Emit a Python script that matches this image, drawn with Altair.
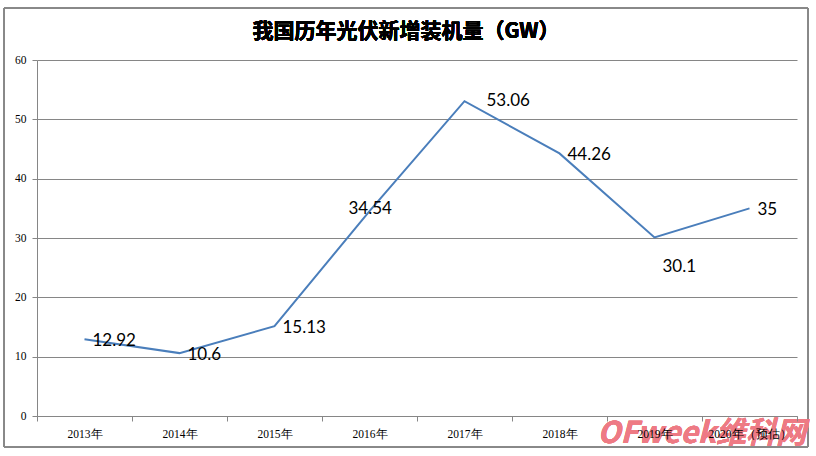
import altair as alt
import pandas as pd

years = ["2013年", "2014年", "2015年", "2016年", "2017年", "2018年", "2019年", "2020年（预估）"]
values = [12.92, 10.6, 15.13, 34.54, 53.06, 44.26, 30.1, 35]
labels = ["12.92", "10.6", "15.13", "34.54", "53.06", "44.26", "30.1", "35"]

df = pd.DataFrame({"year": years, "value": values, "label": labels})

W, H = 760, 356
LEFT, TOP = 37, 60

xenc = alt.X("year:O", sort=years,
             scale=alt.Scale(type="band", paddingInner=0, paddingOuter=0),
             axis=alt.Axis(title=None, labelAngle=0, tickBand="extent", grid=False,
                           domainColor="#868686", tickColor="#868686", tickSize=5,
                           labelFont="Liberation Sans Narrow", labelFontSize=11.5, labelColor="#000000",
                           labelPadding=7, zindex=1))
yenc = alt.Y("value:Q", scale=alt.Scale(domain=[0, 60], nice=False),
             axis=alt.Axis(title=None, values=[0, 10, 20, 30, 40, 50, 60], grid=True,
                           gridColor="#868686", domainColor="#868686", tickColor="#868686",
                           tickSize=5, labelFont="Liberation Sans Narrow", labelFontSize=11.5,
                           labelColor="#000000", labelPadding=6))

base = alt.Chart(df)

line = base.mark_line(color="#4A7EBB", strokeWidth=2).encode(x=xenc, y=yenc)

def lab(filter_years, dx, dy=0):
    return base.transform_filter(
        alt.FieldOneOfPredicate(field="year", oneOf=filter_years)
    ).mark_text(align="left", baseline="middle", dx=dx, dy=dy, fontSize=17,
                font="Lato", color="#000000").encode(
        x=alt.X("year:O", sort=years), y="value:Q", text="label:N")

labs = (lab(["2013年", "2014年", "2015年", "2018年", "2020年（预估）"], 8, 2)
        + lab(["2016年"], -21, -2)
        + lab(["2017年"], 22, 0)
        + lab(["2019年"], 8, 30))

border = alt.Chart(df).mark_rect(fill=None, stroke="#888888", strokeWidth=1).encode(
    x=alt.value(4 - LEFT), x2=alt.value(808 - LEFT),
    y=alt.value(8 - TOP), y2=alt.value(447 - TOP))

title = alt.Chart(df).mark_text(fontSize=21, fontWeight="bold", font="Noto Sans CJK SC",
                                color="#000000", baseline="middle", align="center").encode(
    x=alt.value(406 - LEFT), y=alt.value(32 - TOP), text=alt.value("我国历年光伏新增装机量（GW）"))

watermark = alt.Chart(df).mark_text(fontSize=30, fontWeight="bold", fontStyle="italic",
                                    font="Noto Sans CJK SC", color="#EE7A84", opacity=0.6,
                                    align="right", baseline="middle").encode(
    x=alt.value(806 - LEFT), y=alt.value(434 - TOP), text=alt.value("OFweek维科网"))

chart = alt.layer(border, watermark, line, labs, title).properties(
    width=W, height=H,
    padding={"left": LEFT, "top": TOP, "right": 816 - LEFT - W, "bottom": 456 - TOP - H},
    autosize=alt.AutoSizeParams(type="none"),
    background="#FFFFFF",
).configure_view(stroke=None)

chart.save("out.html", embed_options={"renderer": "svg", "actions": False})
